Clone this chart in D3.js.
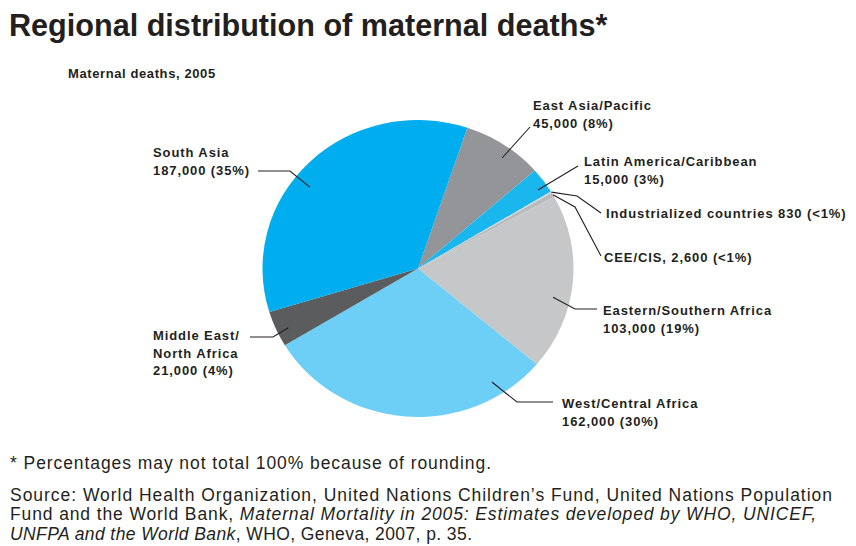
<!DOCTYPE html>
<html>
<head>
<meta charset="utf-8">
<script src="https://cdn.jsdelivr.net/npm/d3@7/dist/d3.min.js"></script>
<style>
  html, body { margin: 0; padding: 0; background: #fff; }
  svg { display: block; }
  .title { font-family: "Liberation Sans", Arial, sans-serif; font-weight: bold; font-size: 30.6px; fill: #231f20; }
  .subtitle { font-family: "Liberation Sans", Arial, sans-serif; font-weight: bold; font-size: 13px; fill: #231f20; letter-spacing: 0.6px; }
  .lbl { font-family: "Liberation Sans", Arial, sans-serif; font-weight: bold; font-size: 13px; fill: #231f20; letter-spacing: 0.9px; }
  .note { font-family: "Liberation Sans", Arial, sans-serif; font-size: 17.5px; fill: #231f20; }
  .leader { fill: none; stroke: #231f20; stroke-width: 1.1; }
</style>
</head>
<body>
<svg id="chart" width="856" height="546"></svg>
<script>
// Maternal deaths by region, 2005 (clockwise from East Asia/Pacific)
const regions = [
  "East Asia/Pacific",
  "Latin America/Caribbean",
  "Industrialized countries",
  "CEE/CIS",
  "Eastern/Southern Africa",
  "West/Central Africa",
  "Middle East/North Africa",
  "South Asia"
];
const deaths = [45000, 15000, 830, 2600, 103000, 162000, 21000, 187000];
const sliceColors = ["#939598", "#1ab7ee", "#d4d5d6", "#b9babc", "#c6c7c9", "#6dcff6", "#5b5c5e", "#00adee"];

const titleText = "Regional distribution of maternal deaths*";
const subtitleText = "Maternal deaths, 2005";
const footnoteText = "* Percentages may not total 100% because of rounding.";

const svg = d3.select("#chart");

// Pie geometry (drawn slightly flattened)
const cx = 418, cy = 268.5, rx = 155.5, ry = 148.5;
const startDeg = 18.5;

const total = d3.sum(deaths);
const pie = d3.pie().sort(null).value(d => d)
  .startAngle(startDeg * Math.PI / 180)
  .endAngle(startDeg * Math.PI / 180 + 2 * Math.PI);
const arcs = pie(deaths);
const arc = d3.arc().innerRadius(0).outerRadius(rx);

const color = d3.scaleOrdinal().domain(regions).range(sliceColors);

svg.append("text").attr("class", "title").attr("x", 9).attr("y", 36).text(titleText);
svg.append("text").attr("class", "subtitle").attr("x", 68).attr("y", 78).text(subtitleText);

const pieG = svg.append("g")
  .attr("transform", `translate(${cx},${cy}) scale(1,${ry / rx})`);
pieG.selectAll("path.slice")
  .data(arcs)
  .join("path")
  .attr("class", "slice")
  .attr("d", arc)
  .attr("fill", (d, i) => color(regions[i]));

// point on the (flattened) pie at a given fraction through a slice
function piePoint(a, t, k) {
  const ang = a.startAngle + t * (a.endAngle - a.startAngle);
  return [cx + Math.sin(ang) * k * rx, cy - Math.cos(ang) * k * ry];
}

const fmtNum = d3.format(",");
function pctText(v) {
  const p = v / total * 100;
  return p < 1 ? "<1%" : Math.round(p) + "%";
}

// Label placement: text anchor, leader route (t/k locate the leader tip inside the slice)
const labelLayout = {
  "South Asia":               { x: 153, y: 157, mode: "stack",  t: 0.44, k: 0.885, route: [[290, 171], [258, 171]] },
  "East Asia/Pacific":        { x: 533, y: 110, mode: "stack",  t: 0.58, k: 0.92,  route: [[530, 127]] },
  "Latin America/Caribbean":  { x: 584, y: 166, mode: "stack",  t: 0.68, k: 0.935, route: [[578, 166]] },
  "Industrialized countries": { x: 606, y: 218, mode: "inline", t: 0.5,  k: 1.0,   route: [[577, 196], [601, 213]] },
  "CEE/CIS":                  { x: 604, y: 262, mode: "comma",  t: 0.5,  k: 1.0,   route: [[575, 207], [601, 256]] },
  "Eastern/Southern Africa":  { x: 603, y: 315, mode: "stack",  t: 0.6,  k: 0.89,  route: [[575, 309], [597, 309]] },
  "West/Central Africa":      { x: 562, y: 408, mode: "stack",  t: 0.165, k: 0.9,  route: [[517, 402], [553, 402]] },
  "Middle East/North Africa": { x: 153, y: 340, mode: "split",  t: 0.39, k: 0.925, route: [[273, 337], [250, 337]] }
};
const lineGap = 17.5;

const labelG = svg.append("g");
arcs.forEach((a, i) => {
  const name = regions[i];
  const L = labelLayout[name];
  const v = deaths[i];
  const valStr = fmtNum(v) + " (" + pctText(v) + ")";
  let lines;
  if (L.mode === "stack") lines = [name, valStr];
  else if (L.mode === "inline") lines = [name + " " + valStr];
  else if (L.mode === "comma") lines = [name + ", " + valStr];
  else {
    const cut = name.indexOf("/") + 1;
    lines = [name.slice(0, cut), name.slice(cut), valStr];
  }
  const txt = labelG.append("text").attr("class", "lbl").attr("x", L.x).attr("y", L.y);
  lines.forEach((s, j) => {
    txt.append("tspan").attr("x", L.x).attr("y", L.y + j * lineGap).text(s);
  });

  const tip = piePoint(a, L.t, L.k);
  labelG.append("path")
    .attr("class", "leader")
    .attr("d", d3.line()([tip, ...L.route]));
});

// Footnotes
const notes = svg.append("g");
notes.append("text").attr("class", "note").attr("x", 10).attr("y", 469)
  .attr("textLength", 481).attr("lengthAdjust", "spacing")
  .text(footnoteText);

const sourceLines = [
  { y: 501, w: 822, parts: [["Source: World Health Organization, United Nations Children\u2019s Fund, United Nations Population", false]] },
  { y: 520, w: 806, parts: [["Fund and the World Bank, ", false], ["Maternal Mortality in 2005: Estimates developed by WHO, UNICEF,", true]] },
  { y: 540, w: 462, parts: [["UNFPA and the World Bank", true], [", WHO, Geneva, 2007, p. 35.", false]] }
];
sourceLines.forEach(line => {
  const t = notes.append("text").attr("class", "note").attr("x", 10).attr("y", line.y)
    .attr("textLength", line.w).attr("lengthAdjust", "spacing");
  line.parts.forEach(([s, it]) => {
    t.append("tspan").attr("font-style", it ? "italic" : "normal").text(s);
  });
});
</script>
</body>
</html>
